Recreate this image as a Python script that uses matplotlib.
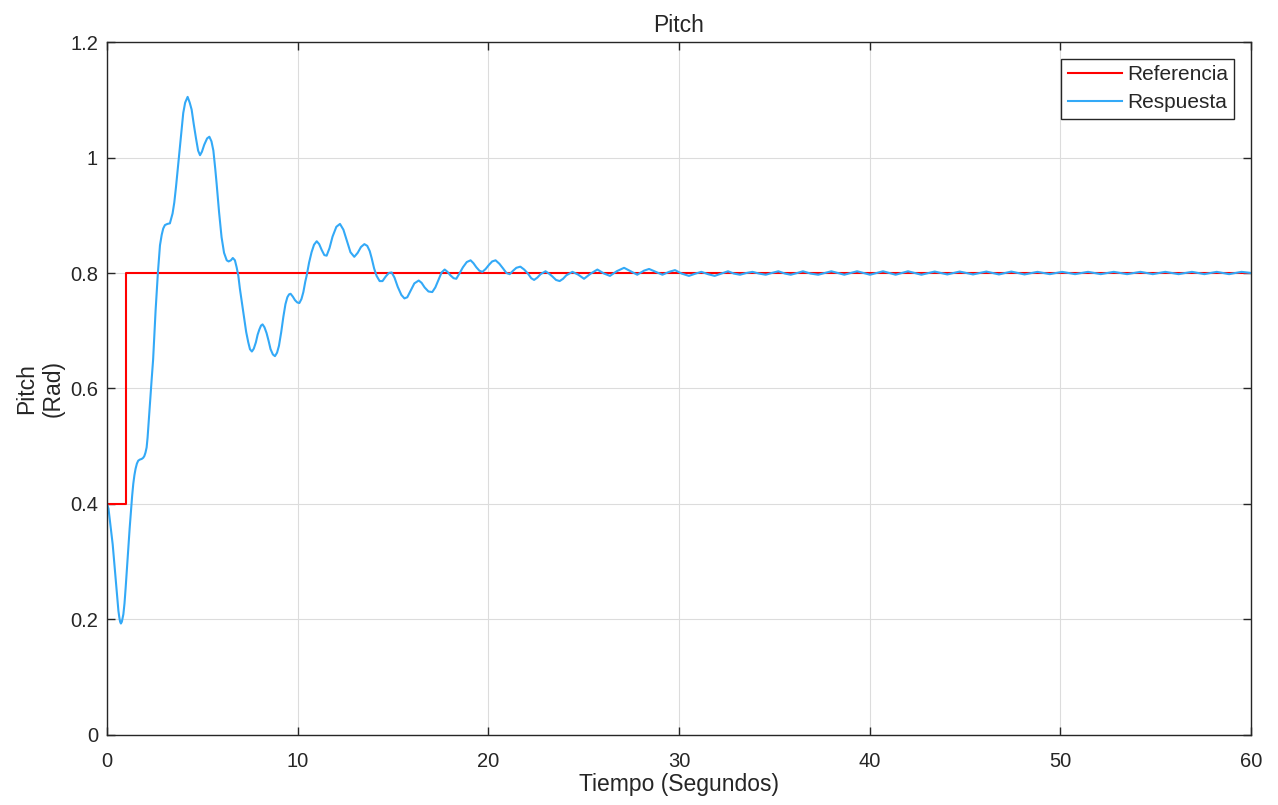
import matplotlib
matplotlib.use("Agg")
import matplotlib.pyplot as plt
from matplotlib.ticker import FormatStrFormatter

# reference signal (step from 0.4 to 0.8 at t = 1 s)
ref_t = [0, 1, 1, 60]
ref_y = [0.4, 0.4, 0.8, 0.8]

# response, 10 values per row in both lists
resp_t = [0.00, 0.08, 0.15, 0.22, 0.30, 0.42, 0.54, 0.60, 0.65, 0.69,
          0.73, 0.78, 0.86, 0.92, 0.98, 1.05, 1.12, 1.19, 1.26, 1.32,
          1.38, 1.44, 1.50, 1.57, 1.64, 1.73, 1.82, 1.90, 1.96, 2.02,
          2.08, 2.13, 2.18, 2.25, 2.34, 2.42, 2.55, 2.67, 2.78, 2.87,
          2.95, 3.04, 3.17, 3.30, 3.44, 3.53, 3.62, 3.72, 3.83, 3.92,
          4.00, 4.10, 4.23, 4.34, 4.44, 4.55, 4.67, 4.78, 4.88, 4.98,
          5.10, 5.25, 5.37, 5.48, 5.58, 5.68, 5.75, 5.88, 6.01, 6.14,
          6.28, 6.38, 6.50, 6.60, 6.71, 6.80, 6.89, 6.97, 7.08, 7.18,
          7.30, 7.41, 7.50, 7.60, 7.70, 7.81, 7.90, 7.99, 8.08, 8.16,
          8.26, 8.37, 8.48, 8.58, 8.70, 8.81, 8.92, 9.02, 9.14, 9.25,
          9.36, 9.46, 9.55, 9.63, 9.75, 9.86, 9.98, 10.09, 10.20, 10.30,
          10.40, 10.47, 10.60, 10.73, 10.86, 11.00, 11.13, 11.26, 11.40, 11.52,
          11.67, 11.83, 12.03, 12.22, 12.40, 12.57, 12.77, 12.97, 13.15, 13.32,
          13.50, 13.65, 13.78, 13.88, 14.01, 14.14, 14.30, 14.45, 14.62, 14.78,
          14.93, 15.08, 15.25, 15.44, 15.60, 15.75, 15.92, 16.12, 16.35, 16.50,
          16.66, 16.86, 17.06, 17.22, 17.36, 17.55, 17.71, 17.86, 18.01, 18.18,
          18.32, 18.50, 18.67, 18.87, 19.07, 19.22, 19.37, 19.53, 19.69, 19.86,
          20.03, 20.20, 20.38, 20.58, 20.77, 20.95, 21.12, 21.30, 21.47, 21.68,
          21.88, 22.08, 22.25, 22.40, 22.57, 22.74, 23.00, 23.18, 23.36, 23.55,
          23.74, 23.92, 24.09, 24.41, 24.72, 25.02, 25.37, 25.72, 26.07, 26.38,
          26.73, 27.12, 27.47, 27.81, 28.16, 28.43, 28.78, 29.13, 29.48, 29.79,
          30.14, 30.52, 30.87, 31.17, 31.52, 31.87, 32.22, 32.57, 32.88, 33.20,
          33.53, 33.85, 34.20, 34.55, 34.86, 35.21, 35.56, 35.86, 36.20, 36.50,
          36.90, 37.30, 37.99, 38.67, 39.34, 40.02, 40.70, 41.36, 42.01, 42.71,
          43.41, 44.07, 44.72, 45.42, 46.12, 46.78, 47.43, 48.12, 48.80, 49.45,
          50.09, 50.77, 51.45, 52.12, 52.80, 53.50, 54.20, 54.85, 55.50, 56.20,
          56.90, 57.55, 58.20, 58.85, 59.50, 60.00]
resp_y = [0.400, 0.392, 0.372, 0.352, 0.330, 0.285, 0.238, 0.215, 0.203, 0.196,
          0.193, 0.196, 0.209, 0.228, 0.255, 0.290, 0.325, 0.358, 0.388, 0.414,
          0.435, 0.450, 0.461, 0.470, 0.475, 0.477, 0.478, 0.480, 0.483, 0.489,
          0.498, 0.515, 0.539, 0.575, 0.614, 0.650, 0.735, 0.800, 0.848, 0.866,
          0.877, 0.883, 0.885, 0.886, 0.903, 0.922, 0.949, 0.983, 1.019, 1.050,
          1.077, 1.095, 1.105, 1.095, 1.083, 1.058, 1.033, 1.012, 1.004, 1.010,
          1.022, 1.033, 1.036, 1.028, 1.012, 0.980, 0.955, 0.905, 0.862, 0.835,
          0.822, 0.820, 0.822, 0.826, 0.822, 0.810, 0.795, 0.773, 0.748, 0.724,
          0.698, 0.680, 0.668, 0.664, 0.669, 0.680, 0.693, 0.702, 0.709, 0.711,
          0.706, 0.696, 0.682, 0.668, 0.659, 0.656, 0.662, 0.674, 0.698, 0.724,
          0.746, 0.758, 0.763, 0.764, 0.759, 0.753, 0.749, 0.748, 0.755, 0.767,
          0.785, 0.795, 0.818, 0.836, 0.849, 0.855, 0.850, 0.840, 0.831, 0.830,
          0.843, 0.863, 0.880, 0.885, 0.875, 0.857, 0.836, 0.828, 0.835, 0.845,
          0.850, 0.847, 0.838, 0.826, 0.808, 0.795, 0.786, 0.786, 0.794, 0.800,
          0.801, 0.792, 0.776, 0.762, 0.756, 0.758, 0.769, 0.782, 0.787, 0.783,
          0.775, 0.768, 0.767, 0.775, 0.786, 0.801, 0.806, 0.802, 0.796, 0.791,
          0.790, 0.800, 0.810, 0.819, 0.822, 0.817, 0.810, 0.804, 0.802, 0.807,
          0.814, 0.820, 0.822, 0.816, 0.808, 0.800, 0.798, 0.804, 0.809, 0.811,
          0.806, 0.799, 0.791, 0.788, 0.792, 0.798, 0.803, 0.799, 0.794, 0.788,
          0.786, 0.790, 0.796, 0.802, 0.797, 0.790, 0.799, 0.806, 0.799, 0.795,
          0.803, 0.809, 0.803, 0.797, 0.804, 0.807, 0.802, 0.797, 0.802, 0.805,
          0.799, 0.795, 0.799, 0.802, 0.798, 0.795, 0.799, 0.803, 0.799, 0.797,
          0.800, 0.802, 0.799, 0.797, 0.800, 0.803, 0.799, 0.797, 0.800, 0.803,
          0.799, 0.797, 0.803, 0.797, 0.803, 0.797, 0.803, 0.797, 0.803, 0.797,
          0.8025, 0.7975, 0.8025, 0.7975, 0.8025, 0.7975, 0.8025, 0.7975, 0.802, 0.798,
          0.802, 0.798, 0.802, 0.798, 0.802, 0.798, 0.802, 0.798, 0.802, 0.798,
          0.802, 0.798, 0.802, 0.798, 0.802, 0.800]

x_ticks = [0, 10, 20, 30, 40, 50, 60]
y_ticks = [0, 0.2, 0.4, 0.6, 0.8, 1.0, 1.2]

plt.rcParams['font.family'] = ['Liberation Sans', 'DejaVu Sans']
txt = '#262626'

fig = plt.figure(figsize=(12.78, 8.05), dpi=100)
ax = fig.add_axes([0.0837, 0.087, 0.8952, 0.8608])

ax.plot(ref_t, ref_y, color='#FF0000', lw=1.5, label='Referencia')
ax.plot(resp_t, resp_y, color='#33A9F7', lw=1.5, label='Respuesta')

ax.set_xlim(0, 60)
ax.set_ylim(0, 1.2)
ax.set_xticks(x_ticks)
ax.set_yticks(y_ticks)
ax.yaxis.set_major_formatter(FormatStrFormatter('%g'))
ax.grid(True, color='#DCDCDC', lw=0.8)
ax.set_axisbelow(True)
ax.tick_params(direction='in', top=True, right=True, length=6, width=1,
               labelsize=14.5, colors=txt)
ax.tick_params(axis='x', pad=12)
ax.tick_params(axis='y', pad=6.5)
for s in ax.spines.values():
    s.set_color(txt)
    s.set_linewidth(1)

ax.set_title('Pitch', fontsize=16.5, color=txt, pad=7.5)
ax.set_xlabel('Tiempo (Segundos)', fontsize=16.5, color=txt, labelpad=2)
ax.set_ylabel('Pitch\n(Rad)', fontsize=16.5, color=txt, labelpad=4,
              multialignment='center')

leg = ax.legend(loc='upper right', fontsize=15, fancybox=False, framealpha=1,
                edgecolor=txt, handlelength=2.6, handletextpad=0.25,
                borderaxespad=0.8, borderpad=0.3, labelspacing=0.45)
leg.get_frame().set_linewidth(1)
for t in leg.get_texts():
    t.set_color(txt)

fig.savefig('out.png', dpi=100)
